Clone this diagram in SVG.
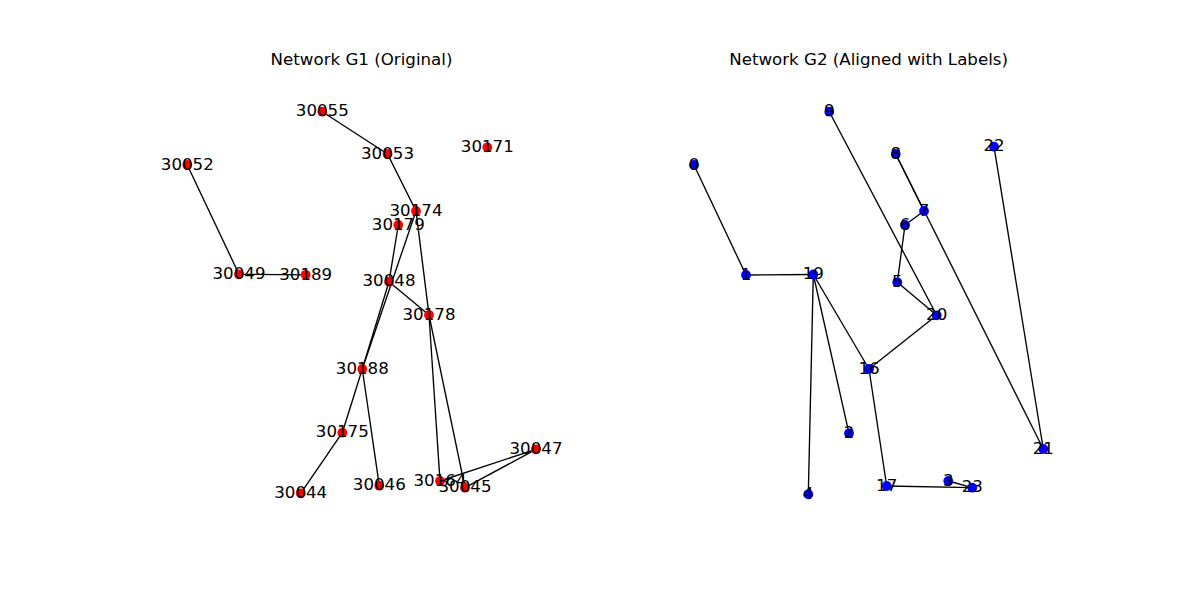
<svg xmlns="http://www.w3.org/2000/svg" width="1200" height="600" viewBox="0 0 1200 600">
<style>
.title{font-family:"DejaVu Sans","Liberation Sans",sans-serif;font-size:16.67px;text-anchor:middle;fill:#000}
.lbl{font-family:"DejaVu Sans","Liberation Sans",sans-serif;font-size:16.67px;text-anchor:middle;fill:#000}
.edges line{stroke:#000;stroke-width:1.35;fill:none}
.r{fill:#ff0000}
.b{fill:#0000ff}
</style>
<rect width="1200" height="600" fill="#fff"/>
<text class="title" x="361.5" y="64.5">Network G1 (Original)</text>
<text class="title" x="868.6" y="64.5">Network G2 (Aligned with Labels)</text>

<g id="edges-g1" class="edges">
<line x1="322.3" y1="111.7" x2="387.5" y2="154"/>
<line x1="387.5" y1="154" x2="416" y2="211"/>
<line x1="187.3" y1="165" x2="239" y2="274.3"/>
<line x1="239" y1="274.3" x2="305.7" y2="274.8"/>
<line x1="416" y1="211" x2="429" y2="315"/>
<line x1="389" y1="281.7" x2="429" y2="315"/>
<line x1="429" y1="315" x2="440" y2="481"/>
<line x1="429" y1="315" x2="465" y2="487.7"/>
<line x1="440" y1="481" x2="536" y2="449.3"/>
<line x1="465" y1="487.7" x2="536" y2="449.3"/>
<line x1="398.3" y1="225" x2="389" y2="281.7"/>
<line x1="389" y1="281.7" x2="362.3" y2="369"/>
<line x1="416" y1="211" x2="362.3" y2="369"/>
<line x1="362.3" y1="369" x2="342.3" y2="432.7"/>
<line x1="342.3" y1="432.7" x2="300.7" y2="493.3"/>
<line x1="362.3" y1="369" x2="379.3" y2="485.7"/>
</g>

<g id="edges-g2" class="edges">
<line x1="694" y1="165" x2="746" y2="275"/>
<line x1="746" y1="275" x2="813.3" y2="274.5"/>
<line x1="829.3" y1="111.7" x2="936.7" y2="315.3"/>
<line x1="895.7" y1="154" x2="924" y2="211"/>
<line x1="895.7" y1="154" x2="1043.3" y2="449"/>
<line x1="924" y1="211" x2="905" y2="225"/>
<line x1="905" y1="225" x2="897.3" y2="282.3"/>
<line x1="897.3" y1="282.3" x2="936.7" y2="315.3"/>
<line x1="936.7" y1="315.3" x2="869" y2="369"/>
<line x1="813.3" y1="274.5" x2="869" y2="369"/>
<line x1="813.3" y1="274.5" x2="849" y2="433.3"/>
<line x1="813.3" y1="274.5" x2="808.3" y2="494.3"/>
<line x1="994" y1="146.7" x2="1043.3" y2="449"/>
<line x1="869" y1="369" x2="886.7" y2="486"/>
<line x1="886.7" y1="486" x2="972.3" y2="487.7"/>
<line x1="948.3" y1="481" x2="972.3" y2="487.7"/>
</g>

<g id="n30055"><circle class="r" cx="322.3" cy="111.7" r="4.9"/><text class="lbl" x="322.3" y="116.4">30055</text></g>
<g id="n30053"><circle class="r" cx="387.5" cy="154" r="4.9"/><text class="lbl" x="387.5" y="158.7">30053</text></g>
<g id="n30171"><circle class="r" cx="487.3" cy="147.3" r="4.9"/><text class="lbl" x="487.3" y="152">30171</text></g>
<g id="n30052"><circle class="r" cx="187.3" cy="165" r="4.9"/><text class="lbl" x="187.3" y="169.7">30052</text></g>
<g id="n30174"><circle class="r" cx="416" cy="211" r="4.9"/><text class="lbl" x="416" y="215.7">30174</text></g>
<g id="n30179"><circle class="r" cx="398.3" cy="225" r="4.9"/><text class="lbl" x="398.3" y="229.7">30179</text></g>
<g id="n30049"><circle class="r" cx="239" cy="274.3" r="4.9"/><text class="lbl" x="239" y="279">30049</text></g>
<g id="n30189"><circle class="r" cx="305.7" cy="274.8" r="4.9"/><text class="lbl" x="305.7" y="279.5">30189</text></g>
<g id="n30048"><circle class="r" cx="389" cy="281.7" r="4.9"/><text class="lbl" x="389" y="286.4">30048</text></g>
<g id="n30178"><circle class="r" cx="429" cy="315" r="4.9"/><text class="lbl" x="429" y="319.7">30178</text></g>
<g id="n30188"><circle class="r" cx="362.3" cy="369" r="4.9"/><text class="lbl" x="362.3" y="373.7">30188</text></g>
<g id="n30175"><circle class="r" cx="342.3" cy="432.7" r="4.9"/><text class="lbl" x="342.3" y="437.4">30175</text></g>
<g id="n30044"><circle class="r" cx="300.7" cy="493.3" r="4.9"/><text class="lbl" x="300.7" y="498">30044</text></g>
<g id="n30046"><circle class="r" cx="379.3" cy="485.7" r="4.9"/><text class="lbl" x="379.3" y="490.4">30046</text></g>
<g id="n30164"><circle class="r" cx="440" cy="481" r="4.9"/><text class="lbl" x="440" y="485.7">30164</text></g>
<g id="n30045"><circle class="r" cx="465" cy="487.7" r="4.9"/><text class="lbl" x="465" y="492.4">30045</text></g>
<g id="n30047"><circle class="r" cx="536" cy="449.3" r="4.9"/><text class="lbl" x="536" y="454">30047</text></g>

<g id="m9"><circle class="b" cx="829.3" cy="111.7" r="4.9"/><text class="lbl" x="829.3" y="116.4">9</text></g>
<g id="m8"><circle class="b" cx="895.7" cy="154" r="4.9"/><text class="lbl" x="895.7" y="158.7">8</text></g>
<g id="m22"><circle class="b" cx="994" cy="146.7" r="4.9"/><text class="lbl" x="994" y="151.4">22</text></g>
<g id="m0"><circle class="b" cx="694" cy="165" r="4.9"/><text class="lbl" x="694" y="169.7">0</text></g>
<g id="m7"><circle class="b" cx="924" cy="211" r="4.9"/><text class="lbl" x="924" y="215.7">7</text></g>
<g id="m6"><circle class="b" cx="905" cy="225" r="4.9"/><text class="lbl" x="905" y="229.7">6</text></g>
<g id="m1"><circle class="b" cx="746" cy="275" r="4.9"/><text class="lbl" x="746" y="279.7">1</text></g>
<g id="m19"><circle class="b" cx="813.3" cy="274.5" r="4.9"/><text class="lbl" x="813.3" y="279.2">19</text></g>
<g id="m5"><circle class="b" cx="897.3" cy="282.3" r="4.9"/><text class="lbl" x="897.3" y="287">5</text></g>
<g id="m20"><circle class="b" cx="936.7" cy="315.3" r="4.9"/><text class="lbl" x="936.7" y="320">20</text></g>
<g id="m16"><circle class="b" cx="869" cy="369" r="4.9"/><text class="lbl" x="869" y="373.7">16</text></g>
<g id="m2"><circle class="b" cx="849" cy="433.3" r="4.9"/><text class="lbl" x="849" y="438">2</text></g>
<g id="m21"><circle class="b" cx="1043.3" cy="449" r="4.9"/><text class="lbl" x="1043.3" y="453.7">21</text></g>
<g id="m4"><circle class="b" cx="808.3" cy="494.3" r="4.9"/><text class="lbl" x="808.3" y="499">4</text></g>
<g id="m17"><circle class="b" cx="886.7" cy="486" r="4.9"/><text class="lbl" x="886.7" y="490.7">17</text></g>
<g id="m3"><circle class="b" cx="948.3" cy="481" r="4.9"/><text class="lbl" x="948.3" y="485.7">3</text></g>
<g id="m23"><circle class="b" cx="972.3" cy="487.7" r="4.9"/><text class="lbl" x="972.3" y="492.4">23</text></g>
</svg>
